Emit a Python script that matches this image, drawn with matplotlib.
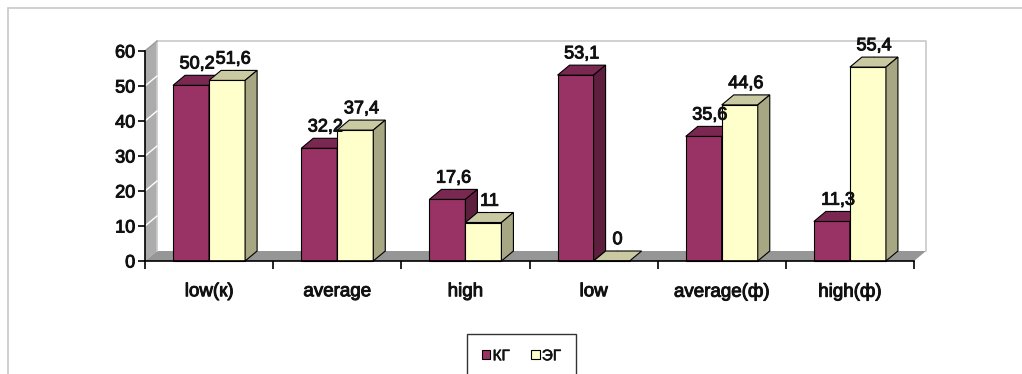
import matplotlib
matplotlib.use("Agg")
import matplotlib.pyplot as plt
import matplotlib.patheffects as pe
from matplotlib.patches import Polygon, Rectangle, Patch

categories = ["low(к)", "average", "high", "low", "average(ф)", "high(ф)"]
kg = [50.2, 32.2, 17.6, 53.1, 35.6, 11.3]
eg = [51.6, 37.4, 11.0, 0.0, 44.6, 55.4]
kg_labels = ["50,2", "32,2", "17,6", "53,1", "35,6", "11,3"]
eg_labels = ["51,6", "37,4", "11", "0", "44,6", "55,4"]
series_names = ["КГ", "ЭГ"]
yticks = [0, 10, 20, 30, 40, 50, 60]

W, H = 1022, 374
plt.rcParams["font.family"] = ["Liberation Sans", "DejaVu Sans"]
thick = [pe.withStroke(linewidth=0.7, foreground="#111111")]

fig = plt.figure(figsize=(W / 100, H / 100), dpi=100)
ax = fig.add_axes([145 / W, (H - 261) / H, (914 - 145) / W, 210 / H])
ax.set_xlim(0, len(categories))
ax.set_ylim(0, 60)

# depth of the pseudo-3D walls and bars, in data units
DX = 12 / (769 / 6)
DY = 10 / 3.5
bw = 0.281

# walls and floor
left_wall = Polygon([(0, 0), (0, 60), (DX, 60 + DY), (DX, DY)], closed=True,
                    facecolor="#acacac", edgecolor="none", clip_on=False, zorder=0)
floor = Polygon([(0, 0), (6, 0), (6 + DX, DY), (DX, DY)], closed=True,
                facecolor="#969696", edgecolor="none", clip_on=False, zorder=0)
ax.add_patch(left_wall)
ax.add_patch(floor)
ax.plot([DX, DX, 6 + DX, 6 + DX], [DY, 60 + DY, 60 + DY, DY], color="#c8c8c8",
        lw=1.2, clip_on=False, zorder=0.5)
ax.plot([0, DX], [60, 60 + DY], color="#9a9a9a", lw=1, clip_on=False, zorder=0.5)
for v in yticks[1:-1]:
    ax.plot([0, DX], [v, v + DY], color="white", lw=1, clip_on=False, zorder=0.6)


def draw_bars(offset, vals, front, top, side, z):
    xs = [i + 0.5 + offset for i in range(len(vals))]
    ax.bar(xs, vals, width=bw, align="edge", color=front, edgecolor="black",
           lw=0.8, zorder=z, clip_on=False)
    for x, v in zip(xs, vals):
        ax.add_patch(Polygon([(x, v), (x + bw, v), (x + bw + DX, v + DY), (x + DX, v + DY)],
                             closed=True, facecolor=top, edgecolor="black", lw=0.8,
                             zorder=z, clip_on=False))
        if v > 0:
            ax.add_patch(Polygon([(x + bw, 0), (x + bw, v), (x + bw + DX, v + DY), (x + bw + DX, DY)],
                                 closed=True, facecolor=side, edgecolor="black", lw=0.8,
                                 zorder=z, clip_on=False))
    return xs


xs_kg = draw_bars(-bw, kg, "#993366", "#7a2852", "#5e1f3f", 2)
xs_eg = draw_bars(0, eg, "#ffffcc", "#c9c9a2", "#a7a783", 3)

for xs, vals, labs in [(xs_kg, kg, kg_labels), (xs_eg, eg, eg_labels)]:
    for x, v, lab in zip(xs, vals, labs):
        t = ax.annotate(lab, xy=(x + bw / 2 + DX / 2, v + DY), xytext=(0, 2),
                        textcoords="offset points", ha="center", va="bottom",
                        fontsize=13, color="#111111", zorder=5,
                        arrowprops=dict(arrowstyle="-", lw=0.7, color="#333333",
                                        shrinkA=0, shrinkB=0))
        t.set_path_effects(thick)

# axes, ticks and labels
for s in ["top", "right"]:
    ax.spines[s].set_visible(False)
ax.spines["left"].set_linewidth(1.2)
ax.spines["bottom"].set_linewidth(1.2)
ax.spines["left"].set_zorder(4)
ax.spines["bottom"].set_zorder(4)
ax.set_yticks(yticks)
ax.tick_params(axis="y", length=5, width=1.2, labelsize=13, pad=2)
ax.set_xticks(range(len(categories) + 1))
ax.set_xticklabels([])
ax.tick_params(axis="x", which="major", length=6, width=1.2)
ax.set_xticks([i + 0.5 for i in range(len(categories))], minor=True)
ax.set_xticklabels(categories, minor=True)
ax.tick_params(axis="x", which="minor", length=0, labelsize=13.5, pad=16)
for lab in ax.get_yticklabels() + ax.get_xticklabels(minor=True):
    lab.set_color("#111111")
    lab.set_path_effects(thick)
ax.patch.set_visible(False)

# outer frame
fig.patches.append(Rectangle((8 / W, -0.1), 1.1, 1 - 8 / H + 0.1, transform=fig.transFigure,
                             fill=False, edgecolor="#c8c8c8", lw=1.2))

handles = [Patch(facecolor="#993366", edgecolor="black", lw=0.8),
           Patch(facecolor="#ffffcc", edgecolor="black", lw=0.8)]
leg = fig.legend(handles, series_names, loc="upper center",
                 bbox_to_anchor=(521.5 / W, 1 - 334 / H), ncol=2, fontsize=11,
                 frameon=True, fancybox=False, edgecolor="black", handlelength=0.55,
                 handleheight=0.55, handletextpad=0.15, columnspacing=1.4,
                 borderpad=1.0, borderaxespad=0)
leg.get_frame().set_linewidth(1.0)
for txt in leg.get_texts():
    txt.set_color("#111111")
    txt.set_path_effects([pe.withStroke(linewidth=0.4, foreground="#111111")])

fig.savefig("out.png", dpi=100)
